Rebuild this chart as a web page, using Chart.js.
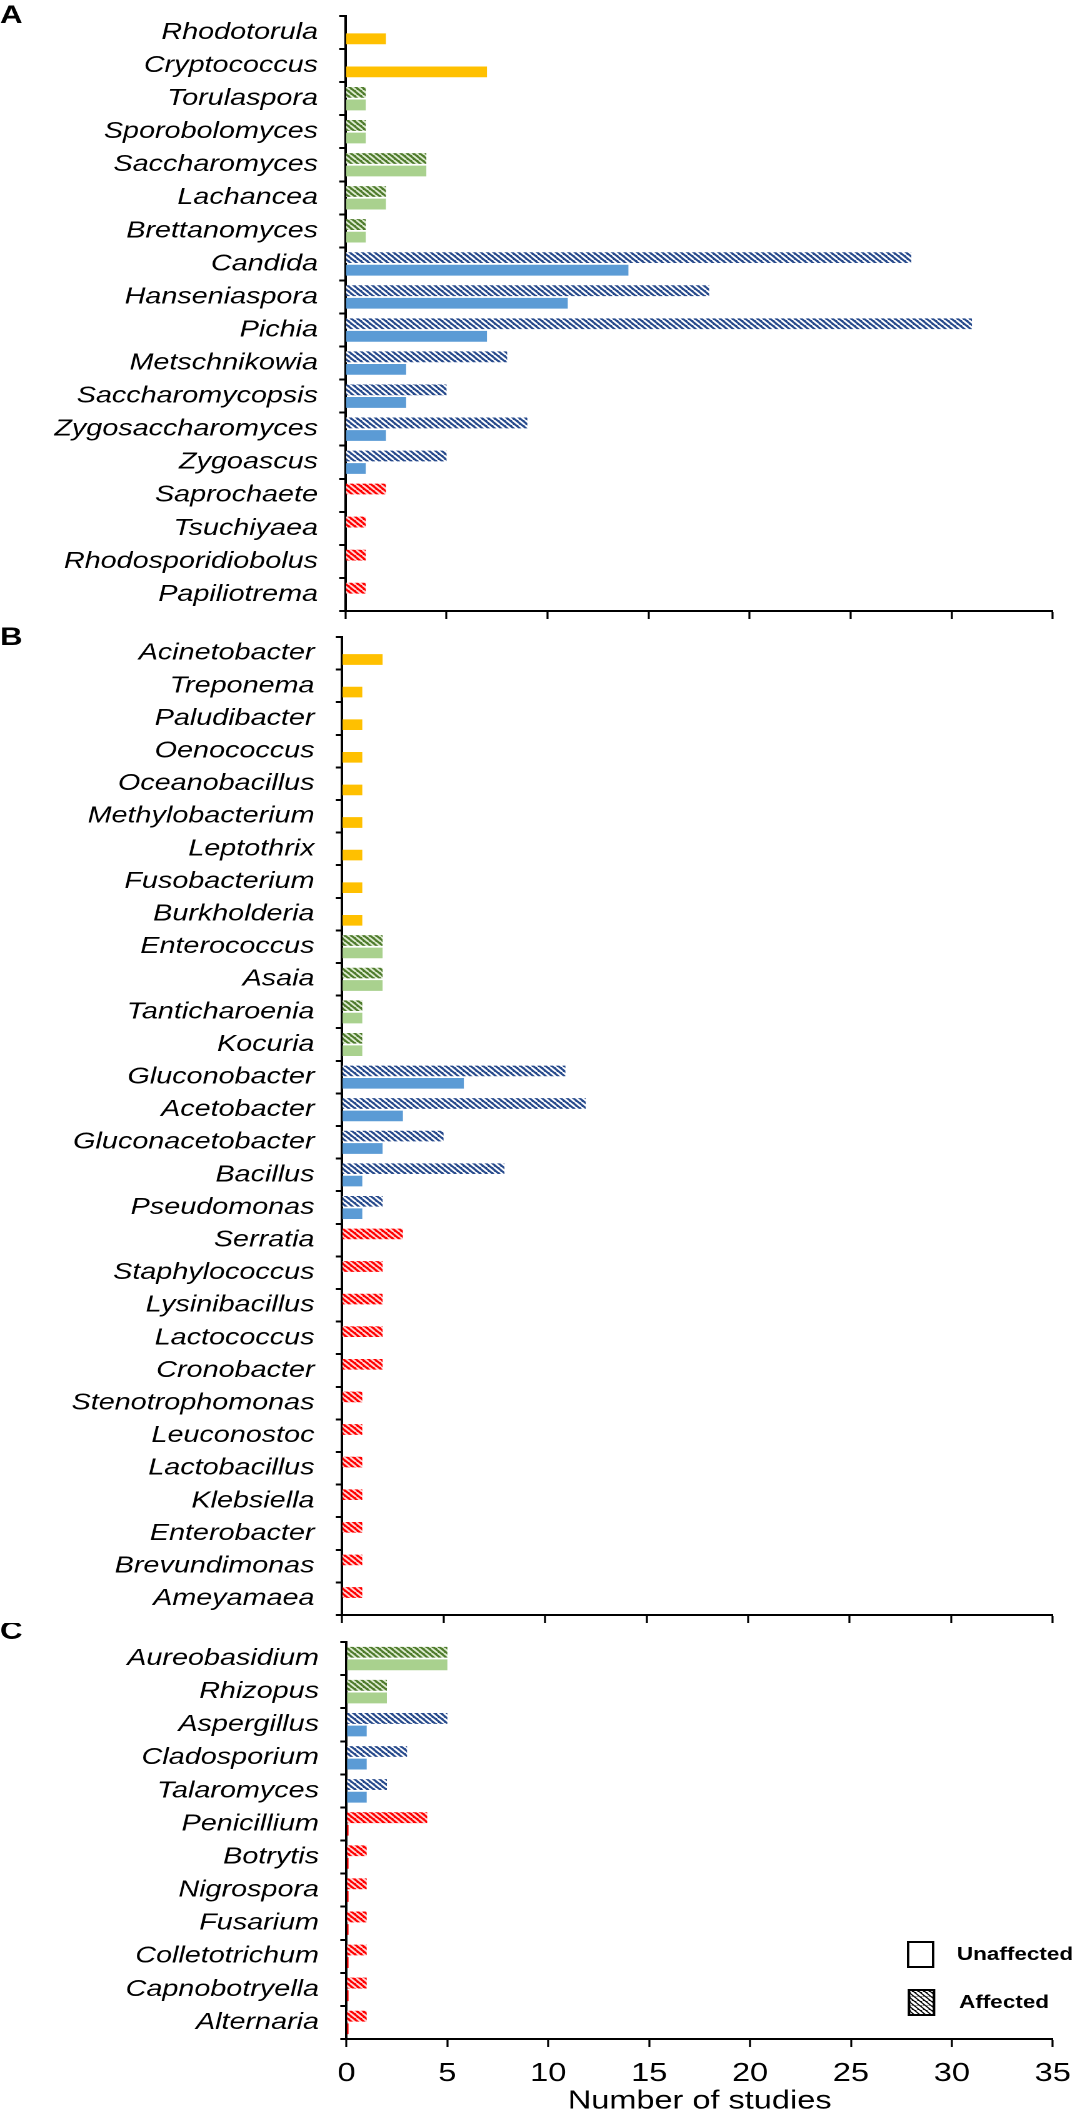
<!DOCTYPE html>
<html>
<head>
<meta charset="utf-8">
<script src="https://cdn.jsdelivr.net/npm/chart.js@4"></script>
<style>
  body { margin: 0; background: #fff; }
  #wrap { position: relative; width: 1085px; height: 2128px; }
  canvas { position: absolute; left: 0; width: 1085px; }
</style>
</head>
<body>
<div id="wrap">
  <canvas id="chartA" width="868" height="622" style="top:0;width:1085px;height:622px"></canvas>
  <canvas id="chartB" width="868" height="1001" style="top:622px;width:1085px;height:1001px"></canvas>
  <canvas id="chartC" width="868" height="505" style="top:1623px;width:1085px;height:505px"></canvas>
</div>
<script>
// Panel A - yeasts
const labelsA = ['Rhodotorula', 'Cryptococcus', 'Torulaspora', 'Sporobolomyces', 'Saccharomyces', 'Lachancea',
  'Brettanomyces', 'Candida', 'Hanseniaspora', 'Pichia', 'Metschnikowia', 'Saccharomycopsis',
  'Zygosaccharomyces', 'Zygoascus', 'Saprochaete', 'Tsuchiyaea', 'Rhodosporidiobolus', 'Papiliotrema'];
const groupsA = ['y', 'y', 'g', 'g', 'g', 'g', 'g', 'b', 'b', 'b', 'b', 'b', 'b', 'b', 'r', 'r', 'r', 'r'];
const affectedA = [null, null, 1, 1, 4, 2, 1, 28, 18, 31, 8, 5, 9, 5, 2, 1, 1, 1];
const unaffectedA = [2, 7, 1, 1, 4, 2, 1, 14, 11, 7, 3, 3, 2, 1, null, null, null, null];

// Panel B - bacteria
const labelsB = ['Acinetobacter', 'Treponema', 'Paludibacter', 'Oenococcus', 'Oceanobacillus', 'Methylobacterium',
  'Leptothrix', 'Fusobacterium', 'Burkholderia', 'Enterococcus', 'Asaia', 'Tanticharoenia', 'Kocuria',
  'Gluconobacter', 'Acetobacter', 'Gluconacetobacter', 'Bacillus', 'Pseudomonas', 'Serratia',
  'Staphylococcus', 'Lysinibacillus', 'Lactococcus', 'Cronobacter', 'Stenotrophomonas', 'Leuconostoc',
  'Lactobacillus', 'Klebsiella', 'Enterobacter', 'Brevundimonas', 'Ameyamaea'];
const groupsB = ['y', 'y', 'y', 'y', 'y', 'y', 'y', 'y', 'y', 'g', 'g', 'g', 'g', 'b', 'b', 'b', 'b', 'b',
  'r', 'r', 'r', 'r', 'r', 'r', 'r', 'r', 'r', 'r', 'r', 'r'];
const affectedB = [null, null, null, null, null, null, null, null, null, 2, 2, 1, 1, 11, 12, 5, 8, 2,
  3, 2, 2, 2, 2, 1, 1, 1, 1, 1, 1, 1];
const unaffectedB = [2, 1, 1, 1, 1, 1, 1, 1, 1, 2, 2, 1, 1, 6, 3, 2, 1, 1,
  null, null, null, null, null, null, null, null, null, null, null, null];

// Panel C - filamentous fungi
const labelsC = ['Aureobasidium', 'Rhizopus', 'Aspergillus', 'Cladosporium', 'Talaromyces', 'Penicillium',
  'Botrytis', 'Nigrospora', 'Fusarium', 'Colletotrichum', 'Capnobotryella', 'Alternaria'];
const groupsC = ['g', 'g', 'b', 'b', 'b', 'r', 'r', 'r', 'r', 'r', 'r', 'r'];
const affectedC = [5, 2, 5, 3, 2, 4, 1, 1, 1, 1, 1, 1];
const unaffectedC = [5, 2, 1, 1, 1, 0.1, 0.1, 0.1, 0.1, 0.1, 0.1, 0.1];

const xTicks = [0, 5, 10, 15, 20, 25, 30, 35];

const DPR = 2;
const FONT = "'Liberation Sans', Arial, sans-serif";
Chart.defaults.font.family = FONT;
Chart.defaults.color = '#000';

// diagonal hatch fill ("\" stripes)
function hatch(base, stripe, size, width) {
  const k = DPR * 2;
  const c = document.createElement('canvas');
  c.width = c.height = Math.round(size * k);
  const g = c.getContext('2d');
  g.fillStyle = base;
  g.fillRect(0, 0, c.width, c.height);
  g.strokeStyle = stripe;
  g.lineWidth = width * k;
  g.beginPath();
  for (let o = -1; o <= 1; o++) {
    g.moveTo(o * c.width, 0);
    g.lineTo((o + 1) * c.width, c.height);
  }
  g.stroke();
  const p = g.createPattern(c, 'repeat');
  p.setTransform(new DOMMatrix([1 / k, 0, 0, 1 / k, 0, 0]));
  return p;
}

const SOLID = { y: '#FFC000', g: '#A9D18E', b: '#5B9BD5', r: '#FF0000' };
const HATCH = {
  y: hatch('#C99700', '#FFE28A', 5, 1.7),
  g: hatch('#4E7B2C', '#DDEBD0', 5, 1.7),
  b: hatch('#274A8C', '#FFFFFF', 5, 1.7),
  r: hatch('#FF0000', '#FFD6D6', 5, 1.7)
};
const legendHatch = hatch('#000000', '#FFFFFF', 4.5, 2.1);

function letterPlugin(letter, y) {
  return {
    id: 'panelLetter',
    afterDraw(chart) {
      const ctx = chart.ctx;
      ctx.save();
      ctx.font = 'bold 25px ' + FONT;
      ctx.fillStyle = '#000';
      ctx.textBaseline = 'middle';
      ctx.textAlign = 'left';
      ctx.fillText(letter, 0, y);
      ctx.restore();
    }
  };
}

const legendPlugin = {
  id: 'studyLegend',
  afterDraw(chart) {
    const ctx = chart.ctx;
    const items = [
      { text: 'Unaffected', fill: '#FFFFFF', x: 726.5, y: 319, tx: 765.5 },
      { text: 'Affected', fill: legendHatch, x: 727.2, y: 367, tx: 767.2 }
    ];
    ctx.save();
    ctx.font = 'bold 18px ' + FONT;
    ctx.textBaseline = 'middle';
    ctx.textAlign = 'left';
    items.forEach(it => {
      ctx.fillStyle = it.fill;
      ctx.fillRect(it.x, it.y, 20, 25);
      ctx.lineWidth = 2;
      ctx.strokeStyle = '#000';
      ctx.strokeRect(it.x, it.y, 20, 25);
      ctx.fillStyle = '#000';
      ctx.fillText(it.text, it.tx, it.y + 13);
    });
    ctx.restore();
  }
};

function makePanel(id, labels, groups, affected, unaffected, cfg) {
  const showTicks = !!cfg.showTicks;
  return new Chart(document.getElementById(id), {
    type: 'bar',
    data: {
      labels: labels,
      datasets: [{
        label: 'Affected',
        data: affected,
        backgroundColor: groups.map(g => HATCH[g])
      }, {
        label: 'Unaffected',
        data: unaffected,
        backgroundColor: groups.map(g => SOLID[g])
      }]
    },
    options: {
      indexAxis: 'y',
      responsive: false,
      animation: false,
      devicePixelRatio: DPR,
      datasets: { bar: { categoryPercentage: 0.76, barPercentage: 0.86 } },
      layout: { padding: { top: cfg.top, right: 25.8, bottom: 0, left: 0 } },
      plugins: { legend: { display: false }, tooltip: { enabled: false } },
      scales: {
        x: {
          type: 'linear',
          min: 0,
          max: 35,
          afterBuildTicks: s => { s.ticks = xTicks.map(v => ({ value: v })); },
          ticks: { display: showTicks, padding: 11, color: '#000', font: { size: 26 } },
          grid: { drawOnChartArea: false, drawTicks: true, tickLength: 8, tickColor: '#000', tickWidth: 1.6 },
          border: { display: true, color: '#000', width: 2 },
          title: {
            display: showTicks,
            text: 'Number of studies',
            color: '#000',
            font: { size: 26 },
            padding: { top: 0, bottom: 11 }
          },
          afterFit: s => { s.height = cfg.xH; s.paddingLeft = 0; s.paddingRight = 0; }
        },
        y: {
          ticks: { autoSkip: false, padding: 17, color: '#000', font: { size: 23, style: 'italic' } },
          grid: { drawOnChartArea: false, drawTicks: true, tickLength: 5, tickColor: '#000', tickWidth: 2 },
          border: { display: true, color: '#000', width: 2 },
          afterFit: s => { s.width = cfg.yW; s.paddingTop = 0; s.paddingBottom = 0; }
        }
      }
    },
    plugins: cfg.plugins
  });
}

makePanel('chartA', labelsA, groupsA, affectedA, unaffectedA,
  { top: 16, xH: 11, yW: 276.4, plugins: [letterPlugin('A', 16)] });
makePanel('chartB', labelsB, groupsB, affectedB, unaffectedB,
  { top: 15, xH: 8, yW: 273.6, plugins: [letterPlugin('B', 16)] });
makePanel('chartC', labelsC, groupsC, affectedC, unaffectedC,
  { top: 19, xH: 89, yW: 277.2, showTicks: true, plugins: [letterPlugin('C', 9), legendPlugin] });
</script>
</body>
</html>
